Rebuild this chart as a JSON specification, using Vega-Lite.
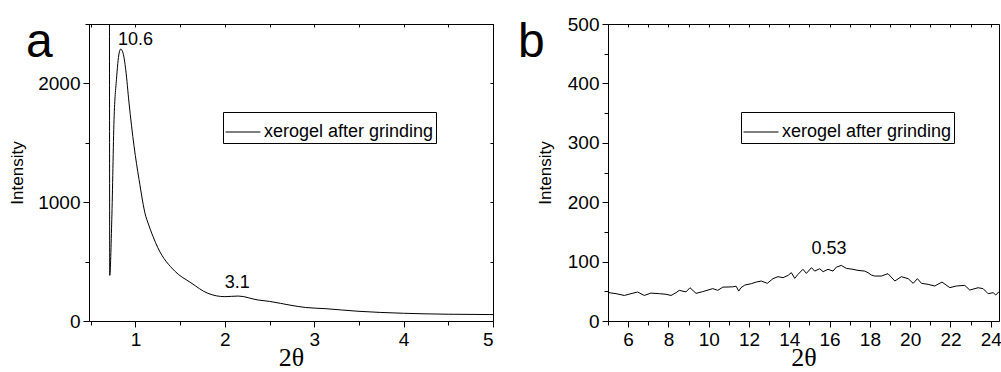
{
  "$schema": "https://vega.github.io/schema/vega-lite/v6.json",
  "padding": {"left": 7, "top": 11, "right": 0, "bottom": 0},
  "background": "white",
  "config": {
    "view": {"stroke": "black", "strokeWidth": 1},
    "axis": {
      "domainColor": "black", "tickColor": "black", "labelColor": "black", "titleColor": "black",
      "labelFont": "Liberation Sans", "labelFontSize": 19, "grid": false,
      "titleFontWeight": "normal", "labelPadding": 3
    },
    "line": {"color": "black"}
  },
  "datasets": {
    "left": [
      {"t": 0.709, "i": 2600}, {"t": 0.712, "i": 384}, {"t": 0.735, "i": 855}, {"t": 0.76, "i": 1694},
      {"t": 0.787, "i": 2031}, {"t": 0.817, "i": 2255}, {"t": 0.835, "i": 2289}, {"t": 0.861, "i": 2255},
      {"t": 0.891, "i": 2115}, {"t": 0.928, "i": 1835}, {"t": 0.984, "i": 1471}, {"t": 1.04, "i": 1191},
      {"t": 1.115, "i": 882}, {"t": 1.14, "i": 826}, {"t": 1.25, "i": 617}, {"t": 1.44, "i": 420},
      {"t": 1.62, "i": 322}, {"t": 1.81, "i": 233}, {"t": 2.0, "i": 205}, {"t": 2.15, "i": 210},
      {"t": 2.37, "i": 177}, {"t": 2.5, "i": 165}, {"t": 2.74, "i": 132}, {"t": 2.9, "i": 114},
      {"t": 3.12, "i": 104}, {"t": 3.49, "i": 82}, {"t": 4.0, "i": 65}, {"t": 4.5, "i": 57}, {"t": 5.0, "i": 54}
    ],
    "right": [
      {"t": 5.0, "i": 48}, {"t": 5.4, "i": 46}, {"t": 5.81, "i": 43}, {"t": 6.14, "i": 46}, {"t": 6.47, "i": 48.8},
      {"t": 6.8, "i": 43}, {"t": 7.13, "i": 47}, {"t": 7.55, "i": 46}, {"t": 7.88, "i": 45}, {"t": 8.13, "i": 43},
      {"t": 8.38, "i": 47.7}, {"t": 8.54, "i": 51.6}, {"t": 8.87, "i": 49}, {"t": 9.07, "i": 56}, {"t": 9.37, "i": 46.5},
      {"t": 9.7, "i": 49.4}, {"t": 10.2, "i": 54.5}, {"t": 10.45, "i": 51.6}, {"t": 10.7, "i": 57}, {"t": 11.19, "i": 57.5},
      {"t": 11.36, "i": 58.6}, {"t": 11.49, "i": 50.4}, {"t": 11.6, "i": 56}, {"t": 11.79, "i": 60.5}, {"t": 12.12, "i": 62.9},
      {"t": 12.36, "i": 65.6}, {"t": 12.61, "i": 67.3}, {"t": 12.91, "i": 63.4}, {"t": 13.19, "i": 71.3}, {"t": 13.44, "i": 74.6},
      {"t": 13.69, "i": 73}, {"t": 13.94, "i": 76.8}, {"t": 14.1, "i": 81.4}, {"t": 14.27, "i": 71.8}, {"t": 14.43, "i": 78.5},
      {"t": 14.68, "i": 87}, {"t": 14.85, "i": 80.2}, {"t": 15.1, "i": 89.8}, {"t": 15.26, "i": 84}, {"t": 15.51, "i": 88},
      {"t": 15.68, "i": 83}, {"t": 15.92, "i": 87}, {"t": 16.17, "i": 84}, {"t": 16.34, "i": 90.8}, {"t": 16.58, "i": 93.6},
      {"t": 16.83, "i": 88.6}, {"t": 17.16, "i": 87}, {"t": 17.41, "i": 85.2}, {"t": 17.75, "i": 84}, {"t": 17.91, "i": 81.3},
      {"t": 18.08, "i": 77.3}, {"t": 18.24, "i": 75.7}, {"t": 18.57, "i": 75.7}, {"t": 18.9, "i": 79.7}, {"t": 19.24, "i": 67.3},
      {"t": 19.56, "i": 74.6}, {"t": 19.9, "i": 71.3}, {"t": 20.15, "i": 63.4}, {"t": 20.36, "i": 71.3}, {"t": 20.56, "i": 63.4},
      {"t": 20.89, "i": 61.7}, {"t": 21.22, "i": 58.9}, {"t": 21.58, "i": 65.6}, {"t": 21.97, "i": 56.1}, {"t": 22.29, "i": 58.9},
      {"t": 22.71, "i": 60}, {"t": 22.96, "i": 52.1}, {"t": 23.37, "i": 56}, {"t": 23.62, "i": 54.5}, {"t": 23.87, "i": 46},
      {"t": 24.12, "i": 47.7}, {"t": 24.25, "i": 43.7}, {"t": 24.41, "i": 49.4}
    ]
  },
  "hconcat": [
    {
      "width": 404,
      "height": 297,
      "title": {"text": "a", "orient": "none", "anchor": "start", "align": "left", "frame": "group", "offset": 0, "dx": -63, "dy": 33, "baseline": "alphabetic", "fontSize": 48, "font": "Liberation Sans Narrow, Liberation Sans", "fontWeight": "normal", "color": "black"},
      "layer": [
        {
          "data": {"name": "left"},
          "transform": [{"calculate": "'xerogel after grinding'", "as": "s"}],
          "mark": {"type": "line", "strokeWidth": 1, "clip": true, "interpolate": "monotone"},
          "encoding": {
            "x": {"field": "t", "type": "quantitative", "scale": {"domain": [0.48, 5], "nice": false, "zero": false},
              "axis": {"values": [0.5, 1, 1.5, 2, 2.5, 3, 3.5, 4, 4.5, 5], "labelExpr": "datum.value % 1 === 0 ? format(datum.value, 'd') : ''",
                "tickSize": {"condition": {"test": "datum.value % 1 === 0", "value": 6}, "value": 4},
                "title": "2θ", "titleFont": "Liberation Serif", "titleFontSize": 26, "titleBaseline": "alphabetic", "titleY": 44}},
            "y": {"field": "i", "type": "quantitative", "scale": {"domain": [0, 2500], "nice": false},
              "axis": {"values": [0, 500, 1000, 1500, 2000, 2500], "labelExpr": "datum.value % 1000 === 0 ? format(datum.value, 'd') : ''",
                "tickSize": {"condition": {"test": "datum.value % 1000 === 0", "value": 6}, "value": 4},
                "title": "Intensity", "titleFont": "Liberation Sans", "titleFontSize": 17, "titleBaseline": "alphabetic", "titleX": -67}},
            "color": {"field": "s", "type": "nominal", "scale": {"range": ["black"]},
              "legend": {"orient": "none", "legendX": 134, "legendY": 88, "title": null, "strokeColor": "black", "padding": 2,
                "symbolType": "stroke", "symbolSize": 1225, "symbolStrokeWidth": 1, "symbolStrokeColor": "black",
                "labelFontSize": 18, "labelFont": "Liberation Sans", "labelColor": "black", "labelOffset": 3, "labelLimit": 400}}
          }
        },
        {
          "data": {"name": "left"},
          "mark": {"type": "line", "opacity": 0},
          "encoding": {
            "x": {"field": "t", "type": "quantitative", "scale": {"domain": [0.48, 5], "nice": false, "zero": false},
              "axis": {"orient": "top", "values": [0.5, 1, 1.5, 2, 2.5, 3, 3.5, 4, 4.5, 5], "labels": false, "title": null, "tickSize": -3}},
            "y": {"field": "i", "type": "quantitative", "scale": {"domain": [0, 2500], "nice": false},
              "axis": {"orient": "right", "values": [0, 500, 1000, 1500, 2000, 2500], "labels": false, "title": null, "tickSize": -3}}
          }
        },
        {
          "data": {"values": [{"t": 1.0, "i": 2325, "lab": "10.6"}, {"t": 2.14, "i": 275, "lab": "3.1"}]},
          "mark": {"type": "text", "fontSize": 18, "font": "Liberation Sans", "baseline": "alphabetic", "align": "center", "color": "black"},
          "encoding": {
            "x": {"field": "t", "type": "quantitative", "axis": null},
            "y": {"field": "i", "type": "quantitative", "axis": null},
            "text": {"field": "lab"}
          }
        }
      ],
      "resolve": {"axis": {"x": "independent", "y": "independent"}}
    },
    {
      "width": 391,
      "height": 297,
      "title": {"text": "b", "orient": "none", "anchor": "start", "align": "left", "frame": "group", "offset": 0, "dx": -90, "dy": 33, "baseline": "alphabetic", "fontSize": 48, "font": "Liberation Sans Narrow, Liberation Sans", "fontWeight": "normal", "color": "black"},
      "layer": [
        {
          "data": {"name": "right"},
          "transform": [{"calculate": "'xerogel after grinding'", "as": "s"}],
          "mark": {"type": "line", "strokeWidth": 1, "clip": true},
          "encoding": {
            "x": {"field": "t", "type": "quantitative", "scale": {"domain": [5, 24.41], "nice": false, "zero": false},
              "axis": {"values": [5, 6, 7, 8, 9, 10, 11, 12, 13, 14, 15, 16, 17, 18, 19, 20, 21, 22, 23, 24], "labelExpr": "datum.value % 2 === 0 ? format(datum.value, 'd') : ''",
                "tickSize": {"condition": {"test": "datum.value % 2 === 0", "value": 6}, "value": 4},
                "title": "2θ", "titleFont": "Liberation Serif", "titleFontSize": 26, "titleBaseline": "alphabetic", "titleY": 44}},
            "y": {"field": "i", "type": "quantitative", "scale": {"domain": [0, 500], "nice": false},
              "axis": {"values": [0, 50, 100, 150, 200, 250, 300, 350, 400, 450, 500], "labelExpr": "datum.value % 100 === 0 ? format(datum.value, 'd') : ''",
                "tickSize": {"condition": {"test": "datum.value % 100 === 0", "value": 6}, "value": 4},
                "title": "Intensity", "titleFont": "Liberation Sans", "titleFontSize": 17, "titleBaseline": "alphabetic", "titleX": -58}},
            "color": {"field": "s", "type": "nominal", "scale": {"range": ["black"]},
              "legend": {"orient": "none", "legendX": 133, "legendY": 88, "title": null, "strokeColor": "black", "padding": 2,
                "symbolType": "stroke", "symbolSize": 1225, "symbolStrokeWidth": 1, "symbolStrokeColor": "black",
                "labelFontSize": 18, "labelFont": "Liberation Sans", "labelColor": "black", "labelOffset": 3, "labelLimit": 400}}
          }
        },
        {
          "data": {"name": "right"},
          "mark": {"type": "line", "opacity": 0},
          "encoding": {
            "x": {"field": "t", "type": "quantitative", "scale": {"domain": [5, 24.41], "nice": false, "zero": false},
              "axis": {"orient": "top", "values": [5, 6, 7, 8, 9, 10, 11, 12, 13, 14, 15, 16, 17, 18, 19, 20, 21, 22, 23, 24], "labels": false, "title": null, "tickSize": -3}}
          }
        },
        {
          "data": {"values": [{"t": 15.97, "i": 112, "lab": "0.53"}]},
          "mark": {"type": "text", "fontSize": 18, "font": "Liberation Sans", "baseline": "alphabetic", "align": "center", "color": "black"},
          "encoding": {
            "x": {"field": "t", "type": "quantitative", "axis": null},
            "y": {"field": "i", "type": "quantitative", "axis": null},
            "text": {"field": "lab"}
          }
        }
      ],
      "resolve": {"axis": {"x": "independent", "y": "independent"}}
    }
  ],
  "spacing": 115,
  "bounds": "flush",
  "resolve": {"scale": {"color": "independent"}, "legend": {"color": "independent"}}
}
